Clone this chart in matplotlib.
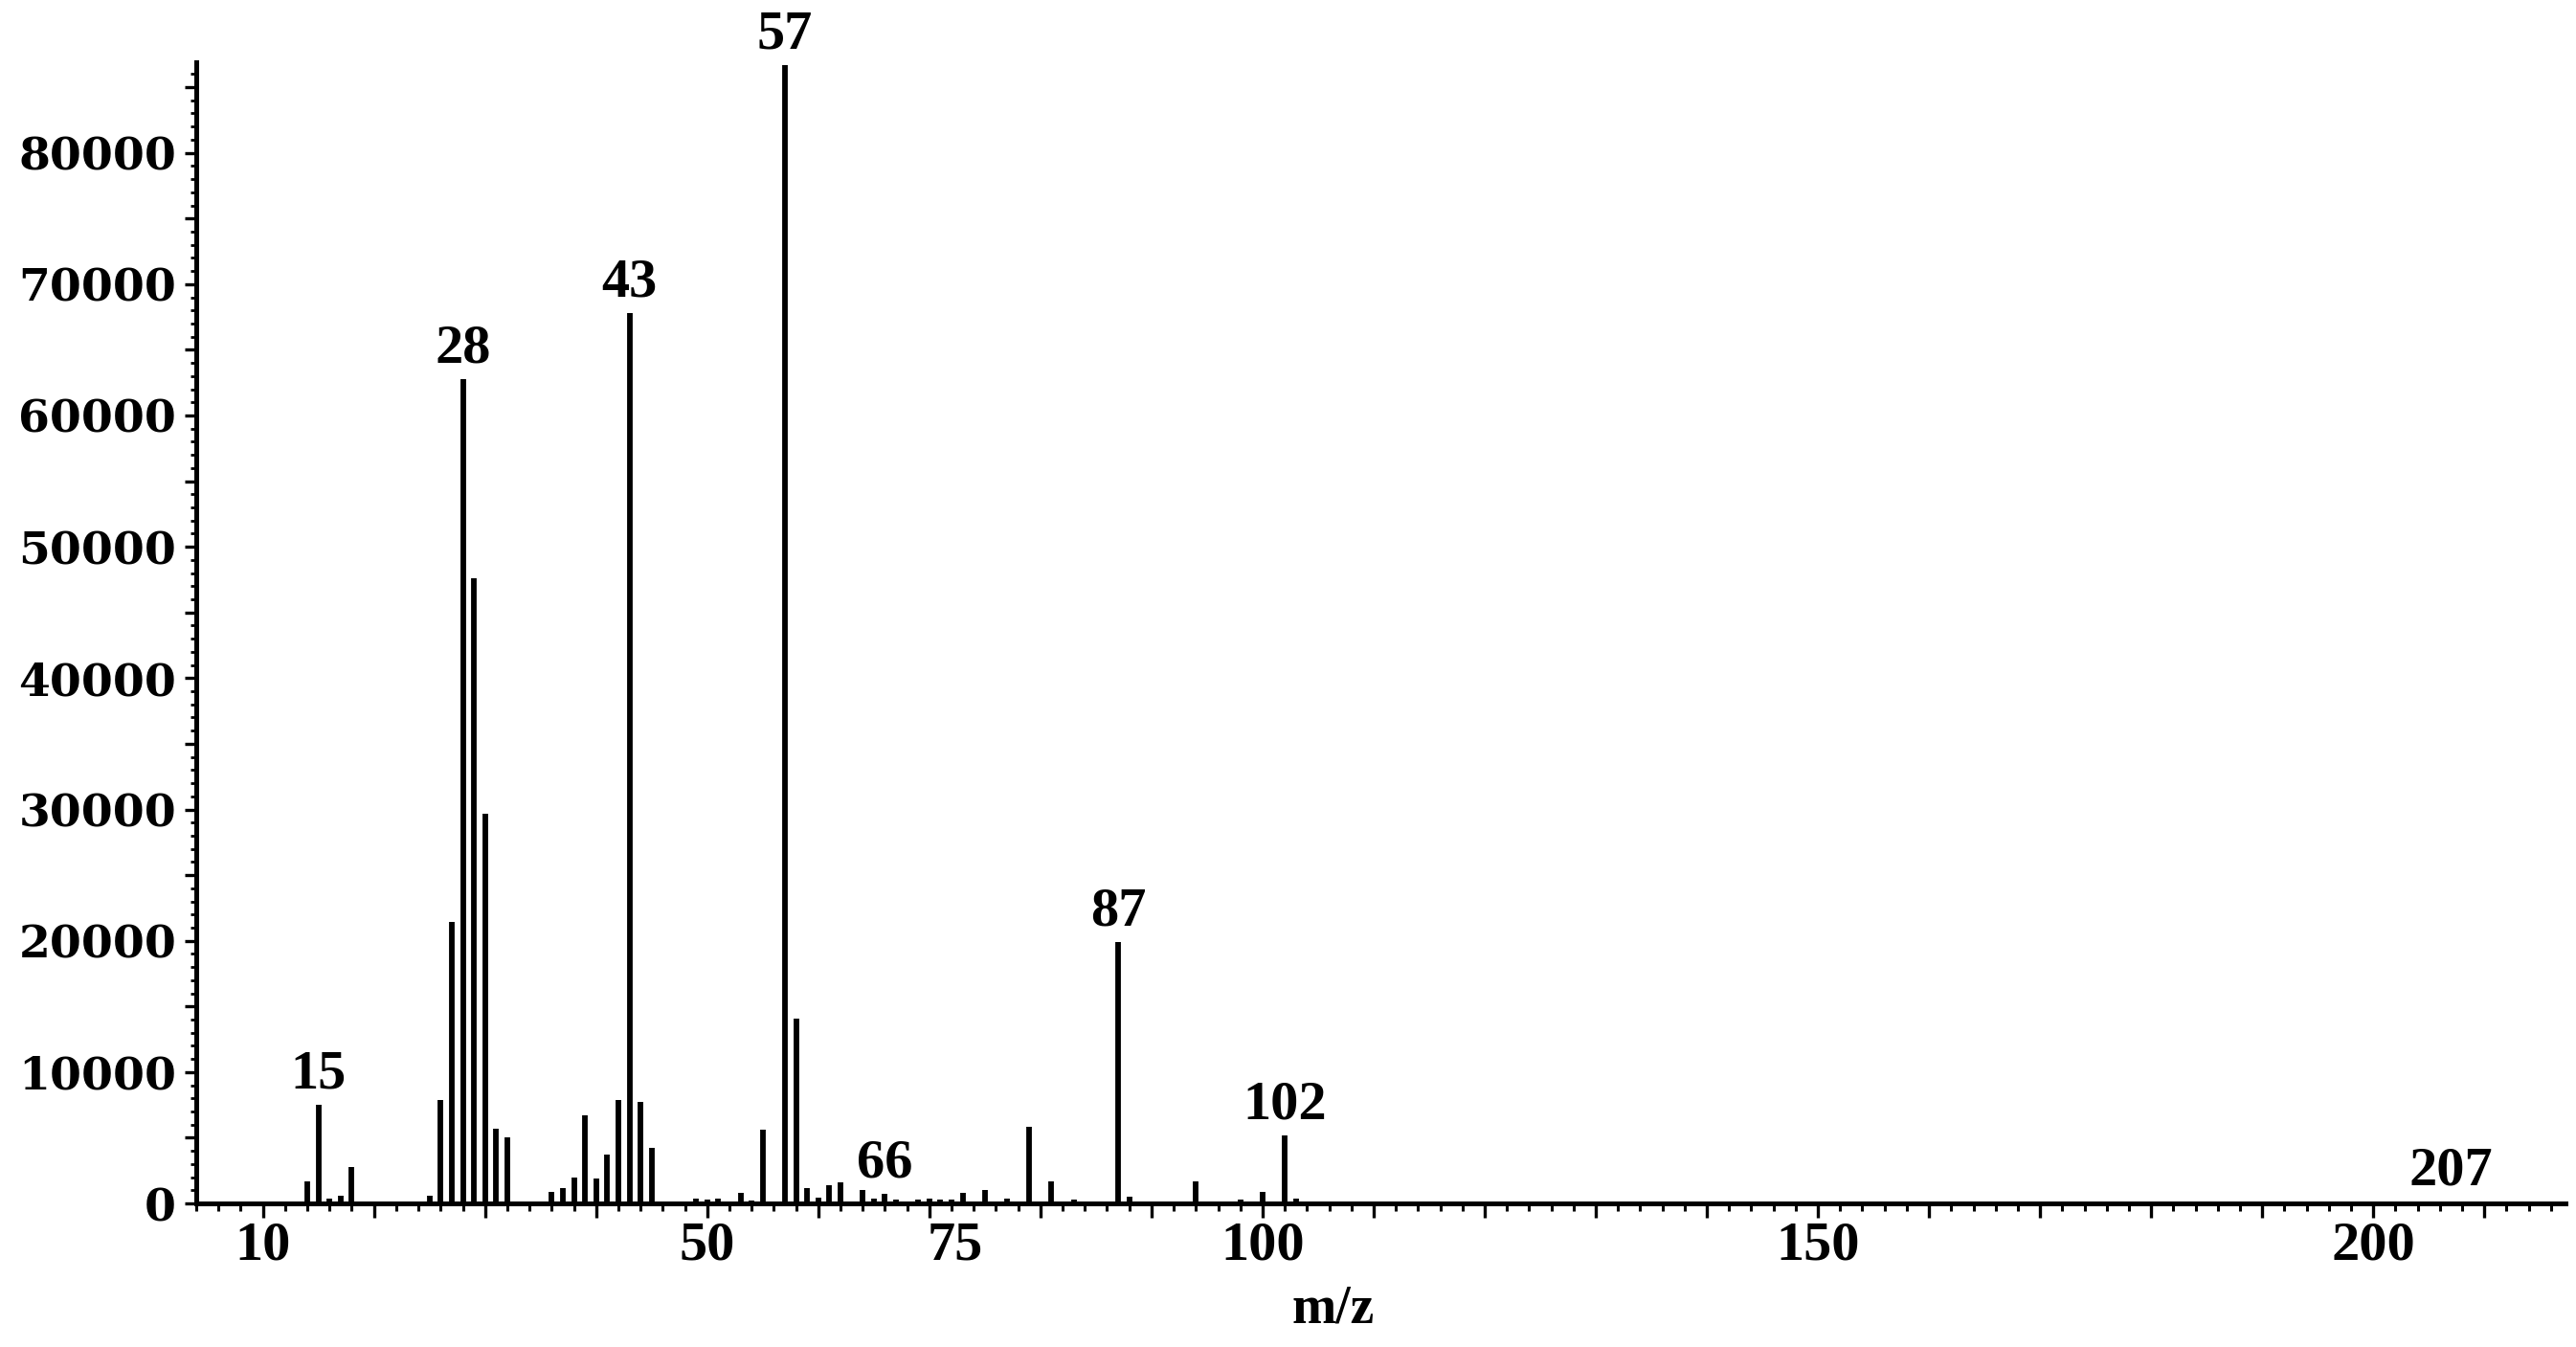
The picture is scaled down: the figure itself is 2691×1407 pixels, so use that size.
import matplotlib
matplotlib.use("Agg")
import matplotlib.pyplot as plt
import matplotlib.transforms as mtransforms
from matplotlib.ticker import MultipleLocator, FuncFormatter

# peak list (m/z, abundance)
mz = [14, 15, 16, 17, 18, 25, 26, 27, 28, 29, 30, 31, 32,
      36, 37, 38, 39, 40, 41, 42, 43, 44, 45, 49, 50, 51, 53, 54, 55,
      57, 58, 59, 60, 61, 62, 64, 65, 66, 67, 69, 70, 71, 72, 73, 75, 77,
      79, 81, 83, 87, 88, 94, 98, 100, 102, 103, 207]
intensity = [1700, 7500, 400, 600, 2800, 600, 7900, 21400, 62800, 47600, 29700, 5700, 5000,
             850, 1200, 2000, 6700, 1900, 3700, 7900, 67800, 7700, 4200, 400, 300, 400, 800, 250, 5600,
             86700, 14100, 1200, 450, 1400, 1600, 1000, 400, 700, 300, 300, 350, 300, 300, 800, 1000, 400,
             5800, 1700, 300, 19900, 500, 1700, 300, 850, 5200, 350, 150]

labeled_peaks = [15, 28, 43, 57, 66, 87, 102, 207]

xtick_values = [10, 50, 75, 100, 150, 200]
xtick_labels = ["10", "50", "75", "100", "150", "200"]

serif = "Liberation Serif"

fig = plt.figure(figsize=(26.91, 14.07), dpi=100)
ax = fig.add_axes([0.0762, 0.1066, 0.9197, 0.8472])

ax.vlines(mz, 0, intensity, colors="black", linewidth=4.2, capstyle="butt")

for m in labeled_peaks:
    h = intensity[mz.index(m)]
    ax.annotate(str(m), xy=(m, h), xytext=(0, 4), textcoords="offset points",
                ha="center", va="bottom", fontsize=42, fontweight="bold",
                family=serif)

ax.set_xlim(4.0, 217.3)
ax.set_ylim(0, 86900)

for s in ["top", "right"]:
    ax.spines[s].set_visible(False)
for s in ["left", "bottom"]:
    ax.spines[s].set_linewidth(3.6)

# x ticks: long every 10, short every 2, labels on a separate axis
ax.xaxis.set_major_locator(MultipleLocator(10))
ax.xaxis.set_minor_locator(MultipleLocator(2))
ax.tick_params(axis="x", which="major", length=11, width=2.4, labelbottom=False)
ax.tick_params(axis="x", which="minor", length=6, width=2.2)

sec = ax.secondary_xaxis("bottom")
sec.set_xticks(xtick_values, labels=xtick_labels)
sec.tick_params(axis="x", length=0, pad=13)
sec.spines["bottom"].set_visible(False)
for lab in sec.get_xticklabels():
    lab.set_fontsize(42)
    lab.set_fontweight("bold")
    lab.set_family(serif)
    if lab.get_text() == "75":
        lab.set_transform(lab.get_transform() + mtransforms.ScaledTranslation(-0.31, 0, fig.dpi_scale_trans))

# y ticks: every 5000 with labels at 10000, tiny every 1000
ax.yaxis.set_major_locator(MultipleLocator(5000))
ax.yaxis.set_minor_locator(MultipleLocator(1000))
ax.yaxis.set_major_formatter(FuncFormatter(lambda v, p: f"{int(v)}" if int(v) % 10000 == 0 else ""))
ax.tick_params(axis="y", which="major", length=9, width=2.4, pad=6)
ax.tick_params(axis="y", which="minor", length=4, width=2.0)
for lab in ax.get_yticklabels():
    lab.set_fontsize(34)
    lab.set_fontweight("bold")
    lab.set_family("DejaVu Serif")

ax.set_xlabel("m/z", fontsize=40, fontweight="bold", family=serif, va="center")
ax.xaxis.set_label_coords(0.48, -0.093)

fig.savefig("out.png", dpi=100)
